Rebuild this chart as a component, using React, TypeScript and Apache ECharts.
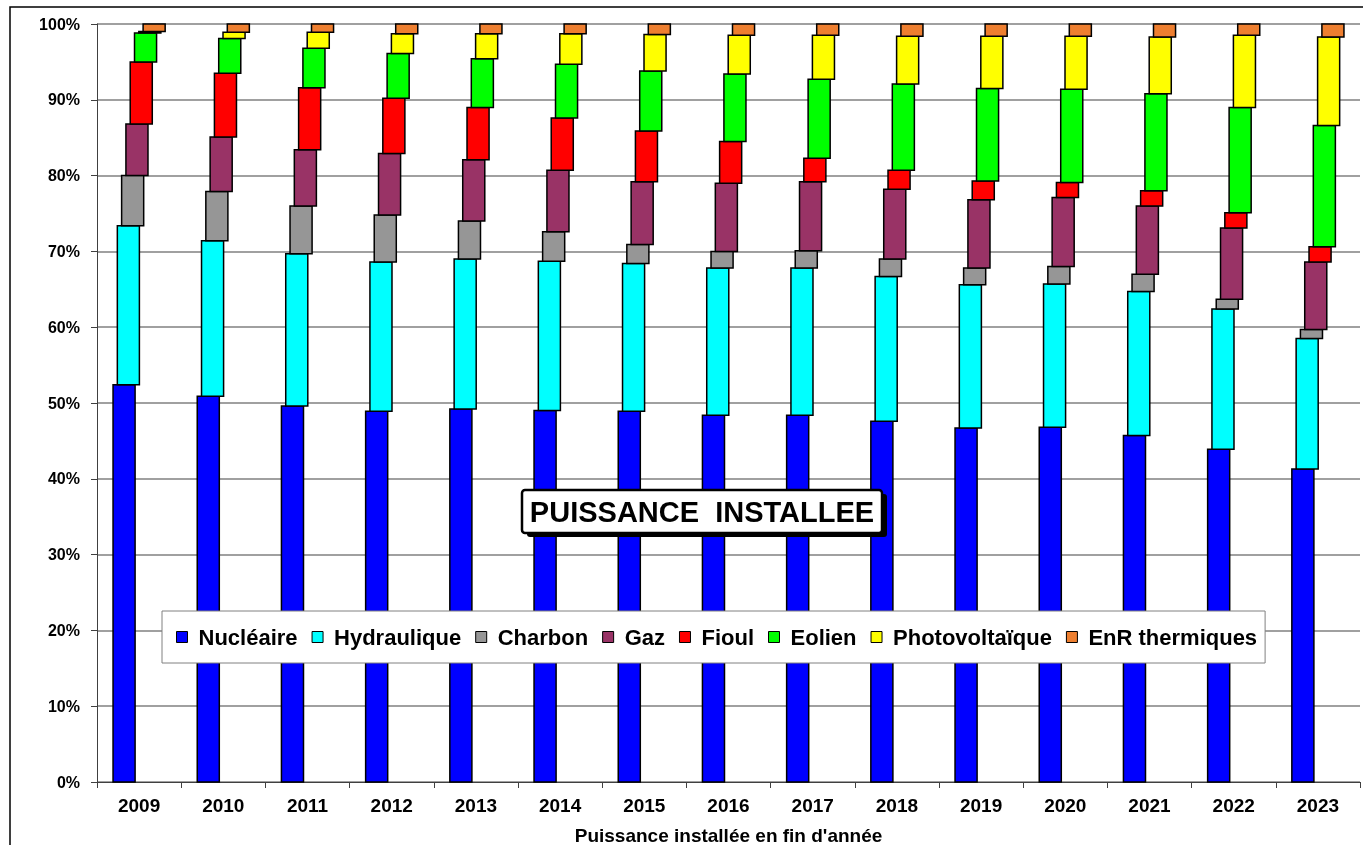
import React, { useEffect, useRef } from "react";
import * as echarts from "echarts";

const years = ["2009","2010","2011","2012","2013","2014","2015","2016","2017","2018","2019","2020","2021","2022","2023"];
const yTickLabels = ["0%","10%","20%","30%","40%","50%","60%","70%","80%","90%","100%"];

const seriesNames = ["Nucléaire","Hydraulique","Charbon","Gaz","Fioul","Eolien","Photovoltaïque","EnR thermiques"];
const seriesColors = ["#0000FF","#00FFFF","#969696","#993366","#FF0000","#00FF00","#FFFF00","#EE7F30"];

const nucleaire = [52.4,50.9,49.6,48.9,49.2,49.0,48.9,48.4,48.4,47.6,46.7,46.8,45.7,43.9,41.3];
const hydraulique = [21.0,20.5,20.1,19.7,19.8,19.7,19.5,19.4,19.4,19.1,18.9,18.9,19.0,18.5,17.2];
const charbon = [6.6,6.5,6.3,6.2,5.0,3.9,2.5,2.2,2.3,2.3,2.2,2.3,2.3,1.3,1.2];
const gaz = [6.8,7.2,7.4,8.1,8.1,8.1,8.3,9.0,9.1,9.2,9.0,9.1,9.0,9.4,8.9];
const fioul = [8.2,8.4,8.2,7.3,6.9,6.9,6.7,5.5,3.1,2.5,2.5,2.0,2.0,2.0,2.0];
const eolien = [3.8,4.6,5.2,5.9,6.4,7.1,7.9,8.9,10.4,11.4,12.2,12.3,12.8,13.9,16.0];
const photovoltaique = [0.2,0.8,2.1,2.6,3.3,4.0,4.8,5.1,5.8,6.3,6.9,7.0,7.5,9.5,11.7];
const enrThermiques = [1.0,1.1,1.1,1.3,1.3,1.3,1.4,1.5,1.5,1.6,1.6,1.6,1.7,1.5,1.7];

const allValues = [nucleaire, hydraulique, charbon, gaz, fioul, eolien, photovoltaique, enrThermiques];

const FONT = "'Liberation Sans', Arial, sans-serif";

export default function App() {
  const ref = useRef<HTMLDivElement>(null);
  useEffect(() => {
    if (!ref.current) return;
    const chart = echarts.init(ref.current, null, { renderer: "svg" });

    const totals = years.map((_, i) => allValues.reduce((s, arr) => s + arr[i], 0));
    const cum = years.map(() => 0);
    const series: any[] = allValues.map((vals, si) => {
      const data = vals.map((v, i) => {
        const p = (v / totals[i]) * 100;
        const start = cum[i];
        cum[i] += p;
        return [i, start, cum[i]];
      });
      return {
        type: "custom",
        name: seriesNames[si],
        itemStyle: { color: seriesColors[si] },
        encode: { x: 0, y: [1, 2] },
        data,
        z: 2,
        renderItem: (params: any, api: any) => {
          const idx = api.value(0);
          const p0 = api.coord([idx, api.value(1)]);
          const p1 = api.coord([idx, api.value(2)]);
          const band = api.size([1, 0])[0];
          const w = band * 0.262;
          const off = (si - 3.5) * band * 0.051;
          const cx = p0[0] + off;
          return {
            type: "rect",
            shape: { x: cx - w / 2, y: p1[1], width: w, height: p0[1] - p1[1] },
            style: { fill: seriesColors[si], stroke: "#000", lineWidth: 1.5 },
          };
        },
      };
    });

    chart.setOption({
      animation: false,
      grid: { left: 97, right: 3, top: 24, bottom: 63, outerBoundsMode: "none", containLabel: false },
      legend: {
        data: seriesNames,
        left: 162,
        top: 611,
        orient: "horizontal",
        backgroundColor: "#fff",
        borderColor: "#808080",
        borderWidth: 1,
        padding: [15, 8, 15, 14],
        itemGap: 14,
        itemWidth: 11,
        itemHeight: 11,
        icon: "rect",
        itemStyle: { borderColor: "#000", borderWidth: 1 },
        textStyle: { fontFamily: FONT, fontWeight: "bold", fontSize: 22, color: "#000", padding: [0, 0, 0, 6] },
        selectedMode: false,
        z: 10,
      },
      xAxis: {
        type: "category",
        data: years,
        boundaryGap: true,
        name: "Puissance installée en fin d'année",
        nameLocation: "middle",
        nameGap: 44,
        nameTextStyle: { fontFamily: FONT, fontWeight: "bold", fontSize: 19, color: "#000" },
        axisLine: { lineStyle: { color: "#404040", width: 1 } },
        axisTick: { show: true, length: 6, lineStyle: { color: "#404040" } },
        axisLabel: { fontFamily: FONT, fontWeight: "bold", fontSize: 19, color: "#000", margin: 14 },
      },
      yAxis: {
        type: "value",
        min: 0,
        max: 100,
        interval: 10,
        axisLine: { show: true, lineStyle: { color: "#404040", width: 1 } },
        axisTick: { show: true, length: 6, lineStyle: { color: "#404040" } },
        axisLabel: {
          formatter: (v: number) => yTickLabels[Math.round(v / 10)],
          fontFamily: FONT, fontWeight: "bold", fontSize: 16, color: "#000", margin: 17,
        },
        splitLine: { show: true, lineStyle: { color: "#808080", width: 1.5 } },
      },
      graphic: [
        {
          type: "rect",
          shape: { x: 10, y: 7, width: 1420, height: 900 },
          style: { fill: "none", stroke: "#000", lineWidth: 1.5 },
          z: 0,
          silent: true,
        },
        { type: "rect", z: 100, shape: { x: 527, y: 494, width: 360, height: 43, r: 3 }, style: { fill: "#000" } },
        { type: "rect", z: 101, shape: { x: 522, y: 490, width: 360, height: 43, r: 3 }, style: { fill: "#fff", stroke: "#000", lineWidth: 2.5 } },
        {
          type: "text", z: 102, x: 702, y: 512,
          style: { text: "PUISSANCE  INSTALLEE", fontFamily: FONT, fontWeight: "bold", fontSize: 29, fill: "#000", textAlign: "center", textVerticalAlign: "middle" },
        },
      ],
      series,
    });
    return () => chart.dispose();
  }, []);
  return <div ref={ref} style={{ position: "fixed", left: 0, top: 0, width: 1363, height: 845 }} />;
}
